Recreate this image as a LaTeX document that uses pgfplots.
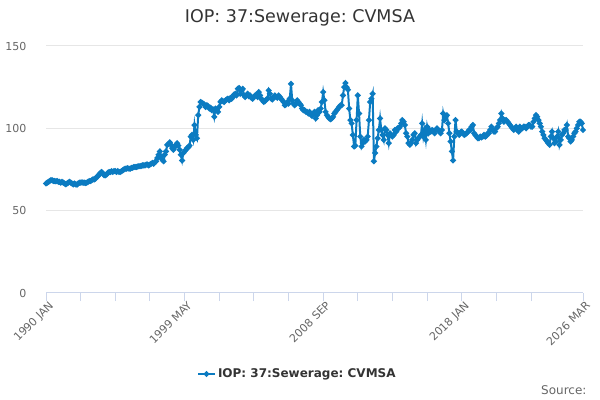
\documentclass[border=0pt]{standalone}
\usepackage{fontspec}
\setmainfont{DejaVu Sans}
\usepackage{pgfplots}
\pgfplotsset{compat=1.18}
\definecolor{ser}{HTML}{0B7BC1}
\definecolor{gridc}{HTML}{E6E6E6}
\definecolor{axisc}{HTML}{CCD6EB}
\definecolor{labc}{HTML}{666666}
\definecolor{titc}{HTML}{333333}
\frenchspacing
\begin{document}
\begin{tikzpicture}
\path[use as bounding box] (0,0) rectangle (600bp,400bp);
\begin{axis}[
  at={(46bp,107bp)}, anchor=south west,
  scale only axis, width=537bp, height=247bp,
  xmin=0, xmax=434, ymin=0, ymax=150,
  clip=false,
  axis x line=bottom, axis y line=left,
  x axis line style={-, draw=axisc, line width=1bp},
  y axis line style={draw=none},
  xtick={0,112,224,336,434},
  xticklabels={1990 JAN,1999 MAY,2008 SEP,2018 JAN,2026 MAR},
  minor xtick={28,56,84,140,168,196,252,280,308,364,392},
  tick align=outside,
  major tick length=8bp, minor tick length=8bp,
  xtick style={draw=axisc, line width=1bp},
  minor x tick style={draw=axisc, line width=1bp},
  xticklabel style={font=\fontsize{11bp}{13bp}\selectfont, text=labc, rotate=45, anchor=north east, inner sep=1bp, xshift=3bp, yshift=0bp},
  ytick={0,50,100,150},
  ytick style={draw=none},
  ymajorgrids, grid style={draw=gridc, line width=1bp},
  yticklabel style={font=\fontsize{11bp}{13bp}\selectfont, text=labc, anchor=east, xshift=-8bp},
  /pgf/number format/assume math mode=true,
  legend style={at={(0.468,-0.328)}, anchor=center, draw=none, fill=none,
    font=\bfseries\fontsize{12bp}{14bp}\selectfont, text=titc},
]
\addplot[color=ser, line width=2bp, mark=*, mark size=1.8bp, mark options={solid}] table[row sep=\\, header=false, x expr=\coordindex, y index=0] {
66.5\\67\\67.5\\68\\68.5\\68.5\\68\\68\\67.8\\68\\67.5\\67.5\\
67\\67.5\\67\\66.5\\66\\66.5\\67\\67.5\\67\\66.5\\66\\66.5\\
66\\65.8\\66.5\\67\\67\\67.2\\67\\67\\66.8\\67\\67.5\\68\\
68\\68.5\\69\\69\\69.5\\70.5\\71\\72\\73\\73.5\\72.5\\71.5\\
71.5\\72\\73\\73.5\\73.5\\74\\73.5\\74\\74\\73.5\\74\\73.5\\
73.5\\74\\74.5\\75\\75.5\\75.5\\75.8\\75.5\\75.5\\76\\76\\76.5\\
76.5\\76.5\\76.8\\77\\77\\77.2\\77.5\\77.5\\77.5\\78\\78\\77.5\\
78\\78.5\\79\\78.5\\79.5\\80\\82\\84\\86\\83\\81\\80\\
84\\86\\90\\90.5\\91.5\\90\\88\\87\\88.5\\90\\91\\89.5\\
87\\84\\80.5\\85\\86\\87\\88\\88.5\\89.5\\95\\96\\93\\
102\\96\\94\\108\\113\\116\\115.5\\115\\114.5\\113\\114\\113.5\\
112\\112.5\\111\\111.5\\107\\112\\111\\110\\113\\116\\117\\116.5\\
116\\117\\117.5\\118\\117\\118.5\\118\\119\\120.5\\121\\120\\124\\
124.5\\121\\123\\124\\120\\119\\120\\121\\119.5\\120\\118.5\\118\\
119\\120\\120.5\\119\\122\\120\\118\\117\\116\\116.5\\117.5\\118\\
123\\121\\118\\117.5\\119\\120\\119\\118.5\\120\\119\\118\\117\\
116\\114\\114.5\\116\\115\\118\\127\\117\\115\\114\\115\\117\\
116\\115\\114\\112\\111\\111\\110\\110\\109\\110\\108.5\\107.5\\
109\\110\\106\\108\\111\\110\\112\\116\\122\\117\\110\\108\\
107\\106\\105.5\\106\\107\\109\\110\\111\\112\\113\\114\\114\\
120\\125\\127.5\\125\\123.5\\112\\105\\103\\96\\89\\89.5\\105\\
120\\109\\95\\89\\91\\93\\92\\93\\95\\105\\116\\118\\
121\\80\\85\\89\\94\\99\\106\\99\\96\\93\\100\\99\\
96\\91\\97\\96\\95\\96\\99\\98\\100\\100\\101\\103\\
105\\104\\102\\97\\95\\91\\90\\91\\93\\96\\97\\91\\
93\\94\\95\\96\\103\\95\\99\\93\\101\\97\\99\\98\\
99\\98.5\\97\\99\\100\\99\\98\\97\\99\\109\\105\\107\\
108\\103\\97\\92\\86\\80.5\\95\\105\\98\\97\\96\\97.5\\
98\\97\\96\\96.5\\97\\98\\99\\99\\101\\102\\97\\96\\
95\\94\\94\\95\\94.5\\95\\96\\95\\95.5\\97\\97\\99\\
101\\99\\98\\98\\100\\101\\103\\105\\109\\106\\104\\105\\
105\\104\\103\\102\\101\\100\\99\\100\\101\\99\\98\\101\\
100\\100\\101\\101\\100\\101\\102\\102\\101\\101\\104\\106\\
108\\107\\105\\103\\101\\98\\96\\94\\93\\92\\91\\90\\
95\\98\\94\\91\\92\\95\\98\\90\\93\\96\\97\\99\\
99\\102\\95\\94\\92\\93\\95\\97\\98\\100\\102\\104\\
104\\103\\99\\
};
\addlegendentry{IOP: 37:Sewerage: CVMSA}
\end{axis}
\node[font=\fontsize{17.5bp}{20bp}\selectfont, text=titc] at (300bp,382bp) {IOP: 37:Sewerage: CVMSA};
\node[font=\fontsize{12bp}{14bp}\selectfont, text=labc, anchor=east] at (590bp,10bp) {Source:};
\end{tikzpicture}
\end{document}
